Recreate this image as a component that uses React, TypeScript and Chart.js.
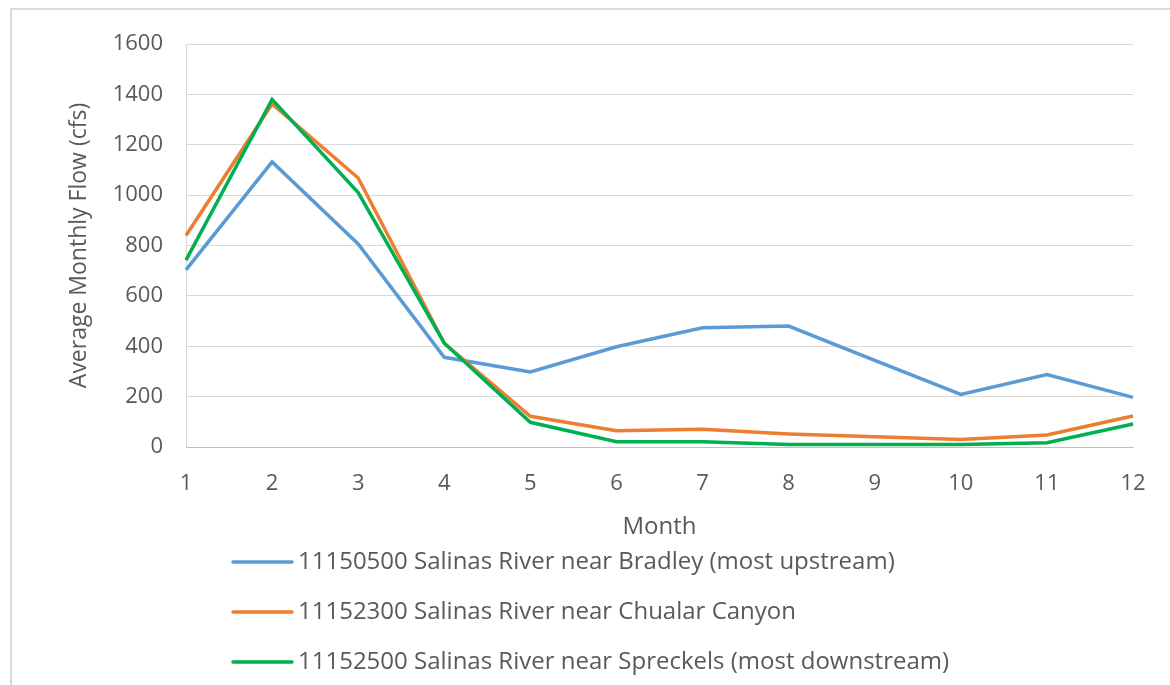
import React, { useEffect, useRef } from "react";
import { Chart, registerables } from "chart.js";

Chart.register(...registerables);

const months = ["1", "2", "3", "4", "5", "6", "7", "8", "9", "10", "11", "12"];
const bradley = [703, 1132, 806, 356, 298, 398, 473, 480, 344, 209, 288, 197];
const chualar = [840, 1362, 1068, 412, 122, 65, 70, 52, 41, 30, 48, 123];
const spreckels = [742, 1380, 1010, 412, 98, 21, 21, 10, 10, 10, 17, 91];
const seriesNames = [
  "11150500 Salinas River near Bradley (most upstream)",
  "11152300 Salinas River near Chualar Canyon",
  "11152500 Salinas River near Spreckels (most downstream)",
];
const seriesColors = ["#5b9bd5", "#ed7d31", "#00b050"];
const yTicks = [0, 200, 400, 600, 800, 1000, 1200, 1400, 1600];

const FONT = "'Open Sans', 'Noto Sans', sans-serif";
const TEXT = "#595959";

const legendPlugin = {
  id: "stackedLegend",
  afterDraw(chart: any) {
    const ctx = chart.ctx;
    ctx.save();
    const ds = chart.data.datasets;
    ds.forEach((d: any, i: number) => {
      const y = 562 + i * 50;
      ctx.strokeStyle = d.borderColor;
      ctx.lineWidth = 3.5;
      ctx.lineCap = "round";
      ctx.beginPath();
      ctx.moveTo(233, y);
      ctx.lineTo(292, y);
      ctx.stroke();
      ctx.fillStyle = TEXT;
      ctx.font = `24px ${FONT}`;
      ctx.textBaseline = "middle";
      ctx.textAlign = "left";
      ctx.fillText(d.label, 298, y);
    });
    ctx.restore();
  },
};

export default function App() {
  const ref = useRef<HTMLCanvasElement>(null);
  useEffect(() => {
    if (!ref.current) return;
    const chart = new Chart(ref.current, {
      type: "line",
      data: {
        labels: months,
        datasets: [bradley, chualar, spreckels].map((vals, i) => ({
          label: seriesNames[i],
          data: vals,
          borderColor: seriesColors[i],
          backgroundColor: seriesColors[i],
          borderWidth: 3.5,
          pointRadius: 0,
          tension: 0,
          order: 2 - i,
        })),
      },
      options: {
        responsive: false,
        animation: false,
        layout: { padding: { top: 44, right: 37, bottom: 140, left: 0 } },
        plugins: { legend: { display: false }, tooltip: { enabled: false } },
        scales: {
          x: {
            type: "category",
            offset: false,
            grid: { display: false, drawTicks: false },
            border: { display: true, color: "#bfbfbf", width: 1 },
            ticks: { color: TEXT, font: { family: FONT, size: 22 }, padding: 24, maxRotation: 0 },
            title: {
              display: true,
              text: "Month",
              color: TEXT,
              font: { family: FONT, size: 24 },
              padding: { top: 0, bottom: 3 },
            },
            afterFit: (s: any) => {
              s.height = 98;
            },
          },
          y: {
            min: 0,
            max: 1600,
            afterBuildTicks: (s: any) => {
              s.ticks = yTicks.map((v) => ({ value: v }));
            },
            grid: { color: "#d9d9d9", lineWidth: 1, drawTicks: false },
            border: { display: true, color: "#d9d9d9", width: 1 },
            ticks: {
              color: TEXT,
              font: { family: FONT, size: 22 },
              padding: 23,
              callback: (v: any) => String(v),
            },
            title: {
              display: true,
              text: "Average Monthly Flow (cfs)",
              color: TEXT,
              font: { family: FONT, size: 23 },
              padding: { top: 66, bottom: 0 },
            },
            afterFit: (s: any) => {
              s.width = 186;
            },
          },
        },
      },
      plugins: [legendPlugin],
    });
    return () => chart.destroy();
  }, []);

  return (
    <div>
      <div
        style={{
          position: "fixed",
          left: 10,
          top: 8,
          width: 1300,
          height: 800,
          border: "2px solid #d9d9d9",
          background: "#fff",
        }}
      />
      <canvas
        ref={ref}
        width={1170}
        height={685}
        style={{ position: "fixed", left: 0, top: 0, display: "block" }}
      />
    </div>
  );
}
